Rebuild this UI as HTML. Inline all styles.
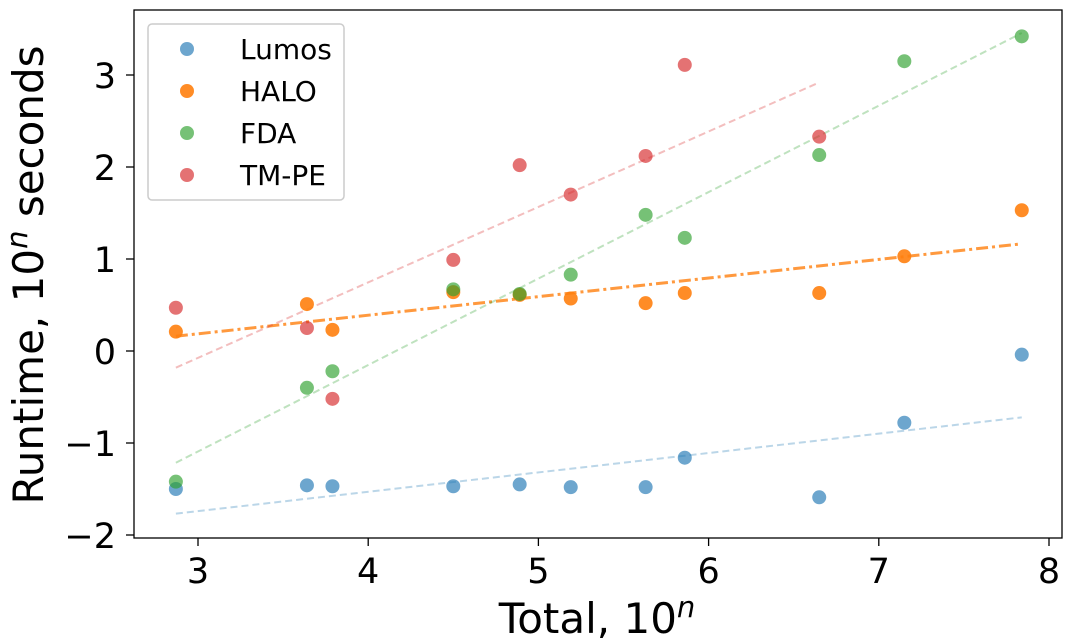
<!DOCTYPE html>
<html><head><meta charset="utf-8"><style>
body{margin:0;background:#fff;}
svg{display:block;font-family:"DejaVu Sans","Liberation Sans",sans-serif;}
</style></head><body>
<svg id="chart" width="1080" height="642">
<rect x="134" y="10" width="928" height="528" fill="#fff" stroke="#000" stroke-width="1.3"/>
<g id="ticks"></g>
<g id="fits"></g>
<g id="marks"></g>
<text x="597" y="633" font-size="42" text-anchor="middle">Total, 10<tspan dy="-16" font-size="29" font-style="italic">n</tspan></text>
<text transform="translate(43,275) rotate(-90)" font-size="42" text-anchor="middle">Runtime, 10<tspan dy="-16" font-size="29" font-style="italic">n</tspan><tspan dy="16"> seconds</tspan></text>
<g>
<rect x="148" y="24" width="196" height="176" rx="4" fill="#fff" fill-opacity="0.85" stroke="#ccc" stroke-width="1.5"/>
<g id="legend"></g>
</g>
</svg>
<script>
const xTicks=[3,4,5,6,7,8];
const yTicks=[-2,-1,0,1,2,3];
const seriesNames=["Lumos","HALO","FDA","TM-PE"];
const xVals=[2.87,3.64,3.79,4.5,4.89,5.19,5.63,5.86,6.65,7.15,7.84];
const lumosY=[-1.5,-1.46,-1.47,-1.47,-1.45,-1.48,-1.48,-1.16,-1.59,-0.78,-0.04];
const haloY=[0.21,0.51,0.23,0.64,0.61,0.57,0.52,0.63,0.63,1.03,1.53];
const fdaY=[-1.42,-0.4,-0.22,0.67,0.62,0.83,1.48,1.23,2.13,3.15,3.42];
const tmpeY=[0.47,0.25,-0.52,0.99,2.02,1.7,2.12,3.11,2.33];
const colors=["#1f77b4","#ff7f0e","#2ca02c","#d62728"];
const NS="http://www.w3.org/2000/svg";
const sx=v=>198+(v-3)*170.2;
const sy=v=>351-v*92;
function mk(tag,attrs,parent){const e=document.createElementNS(NS,tag);for(const k in attrs)e.setAttribute(k,attrs[k]);parent.appendChild(e);return e;}
const tk=document.getElementById('ticks');
xTicks.forEach(t=>{
  const l=mk('line',{x1:sx(t),x2:sx(t),y1:538,y2:546,stroke:'#000','stroke-width':1.3},tk);
  
  
  const s=mk('text',{x:sx(t),y:583,'font-size':35,'text-anchor':'middle'},tk);s.textContent=t;
  
  
});
yTicks.forEach(t=>{
  const l=mk('line',{x1:126,x2:134,y1:sy(t),y2:sy(t),stroke:'#000','stroke-width':1.3},tk);
  
  
  const s=mk('text',{x:116,y:sy(t)+13,'font-size':35,'text-anchor':'end'},tk);s.textContent=(t<0?'\u2212'+(-t):t);
  
  
});
const all=[lumosY,haloY,fdaY,tmpeY];
const fits=document.getElementById('fits'),marks=document.getElementById('marks');
all.forEach((ys,i)=>{
  const xs=xVals.slice(0,ys.length);const n=ys.length;
  const mx=xs.reduce((a,b)=>a+b)/n,my=ys.reduce((a,b)=>a+b)/n;
  let num=0,den=0;xs.forEach((x,j)=>{num+=(x-mx)*(ys[j]-my);den+=(x-mx)*(x-mx);});
  const b=num/den,a=my-b*mx;const x0=xs[0],x1=xs[n-1];
  const ln=mk('line',{x1:sx(x0),y1:sy(a+b*x0),x2:sx(x1),y2:sy(a+b*x1),stroke:colors[i],
    'stroke-width':i==1?3:2,'stroke-opacity':i==1?0.8:0.3,'stroke-dasharray':i==1?'12,4,3,4':'7,4'},fits);
  
  
  ys.forEach((y,j)=>{
    const c=mk('circle',{cx:sx(xs[j]),cy:sy(y),r:7,fill:colors[i],'fill-opacity':i==1?0.9:0.65},marks);
    
    
  });
});
const lg=document.getElementById('legend');
seriesNames.forEach((nm,i)=>{
  const y=49+i*42;
  const c=mk('circle',{cx:187,cy:y,r:7,fill:colors[i],'fill-opacity':i==1?0.9:0.65},lg);
  
  
  const t=mk('text',{x:240,y:y+10,'font-size':28},lg);t.textContent=nm;
  
  
});
</script>
</body></html>
